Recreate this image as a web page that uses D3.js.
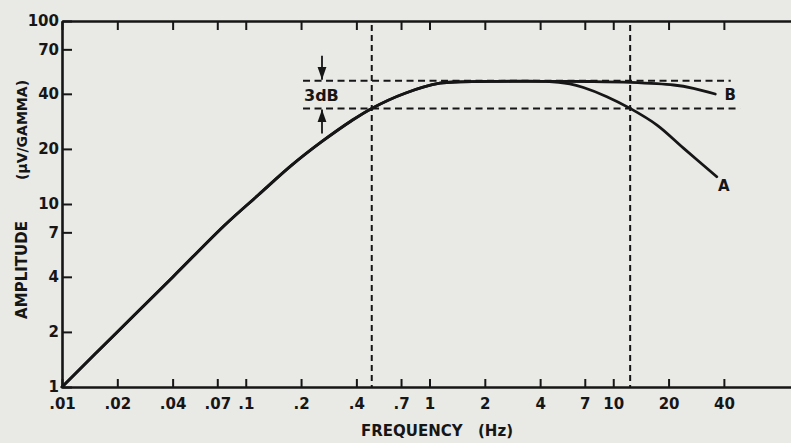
<!DOCTYPE html>
<html>
<head>
<meta charset="utf-8">
<script src="https://cdn.jsdelivr.net/npm/d3@7"></script>
<style>
  html, body { margin: 0; padding: 0; background: #e9e9e6; }
  svg { display: block; }
  text { font-family: "DejaVu Sans", "Liberation Sans", sans-serif; font-weight: bold; fill: #161616; }
</style>
</head>
<body>
<svg id="chart" width="791" height="443"></svg>
<script>
// Frequency axis ticks (Hz) and their labels
const xTicks = [0.01, 0.02, 0.04, 0.07, 0.1, 0.2, 0.4, 0.7, 1, 2, 4, 7, 10, 20, 40];
const xTickLabels = [".01", ".02", ".04", ".07", ".1", ".2", ".4", ".7", "1", "2", "4", "7", "10", "20", "40"];
// Amplitude axis ticks (µV/gamma) and their labels
const yTicks = [1, 2, 4, 7, 10, 20, 40, 70, 100];
const yTickLabels = ["1", "2", "4", "7", "10", "20", "40", "70", "100"];

// Response A: band-limited at both ends
const freqA = [0.01, 0.02, 0.04, 0.077, 0.117, 0.178, 0.259, 0.378, 0.485, 0.737, 1.14, 1.47, 2.4, 4.3, 5.8, 6.88, 9.23, 12.36, 17.3, 24.1, 36.6];
const ampA  = [1.0,  2.0,  3.98, 7.68,  11.2,  16.3,  21.9,  28.6,  33.3,  40.3,  45.7, 46.5, 46.8, 46.8, 45.3, 43.3, 38.6, 33.3,  27.0, 20.2, 14.1];
// Response B: same low end, extended high end
const freqB = [0.01, 0.02, 0.04, 0.077, 0.117, 0.178, 0.259, 0.378, 0.485, 0.737, 1.14, 1.47, 2.4, 4.3, 7.5,  12.36, 21.3, 27.3, 35.9];
const ampB  = [1.0,  2.0,  3.98, 7.68,  11.2,  16.3,  21.9,  28.6,  33.3,  40.3,  45.7, 46.5, 46.8, 46.8, 46.7, 46.2,  44.7, 42.9, 39.9];

// Pass-band reference: peak level and the -3 dB level, with their frequency spans
const refLevels = [47.2, 33.3];
const refStart = [0.205, 0.205];
const refEnd = [43.6, 49.0];
// Half-power (cutoff) frequencies
const cutoffFreqs = [0.485, 12.36];

const svg = d3.select("#chart");
const ink = "#161616";

const x = d3.scaleLog().domain([0.01, 100]).range([62, 797]);
const y = d3.scaleLog().domain([1, 100]).range([387, 21]);

// Reference dashed lines
const gRef = svg.append("g").attr("stroke", ink).attr("fill", "none");
refLevels.forEach((lv, i) => {
  gRef.append("line")
    .attr("x1", x(refStart[i])).attr("x2", x(refEnd[i]))
    .attr("y1", y(lv)).attr("y2", y(lv))
    .attr("stroke-width", 2).attr("stroke-dasharray", "7,4.5");
});
cutoffFreqs.forEach(f => {
  gRef.append("line")
    .attr("x1", x(f)).attr("x2", x(f))
    .attr("y1", y(100) + 4).attr("y2", y(1))
    .attr("stroke-width", 2).attr("stroke-dasharray", "6,4");
});

// Response curves
const line = d3.line().x(d => x(d[0])).y(d => y(d[1])).curve(d3.curveCatmullRom.alpha(0.5));
svg.append("path").datum(d3.zip(freqB, ampB))
  .attr("d", line).attr("fill", "none").attr("stroke", ink).attr("stroke-width", 2.8)
  .attr("stroke-linecap", "round");
svg.append("path").datum(d3.zip(freqA, ampA))
  .attr("d", line).attr("fill", "none").attr("stroke", ink).attr("stroke-width", 2.8)
  .attr("stroke-linecap", "round");

// Curve labels
svg.append("text").attr("x", x(freqA[freqA.length - 1]) + 7).attr("y", y(ampA[ampA.length - 1]) + 14)
  .attr("text-anchor", "middle").attr("font-size", 15).text("A");
svg.append("text").attr("x", x(freqB[freqB.length - 1]) + 15).attr("y", y(ampB[ampB.length - 1]) + 6)
  .attr("text-anchor", "middle").attr("font-size", 15).text("B");

// 3 dB annotation with arrows pointing at the two reference levels
const ax = x(0.26);
const defs = svg.append("defs");
defs.append("marker").attr("id", "arrow").attr("viewBox", "0 0 10 10")
  .attr("refX", 10).attr("refY", 5).attr("markerWidth", 7).attr("markerHeight", 7)
  .attr("orient", "auto-start-reverse")
  .append("path").attr("d", "M0,1.5 L10,5 L0,8.5 Z").attr("fill", ink);
svg.append("line").attr("x1", ax).attr("x2", ax)
  .attr("y1", y(refLevels[0]) - 25).attr("y2", y(refLevels[0]) - 1)
  .attr("stroke", ink).attr("stroke-width", 1.8).attr("marker-end", "url(#arrow)");
svg.append("line").attr("x1", ax).attr("x2", ax)
  .attr("y1", y(refLevels[1]) + 25).attr("y2", y(refLevels[1]) + 1)
  .attr("stroke", ink).attr("stroke-width", 1.8).attr("marker-end", "url(#arrow)");
svg.append("text").attr("x", x(refStart[0]) + 1).attr("y", (y(refLevels[0]) + y(refLevels[1])) / 2 + 6)
  .attr("font-size", 16).text("3dB");

// Axes
const axisBottomG = svg.append("g").attr("transform", `translate(0,${y(1)})`)
  .call(d3.axisBottom(x).tickValues(xTicks).tickSizeInner(-8).tickSizeOuter(0)
    .tickFormat((d, i) => xTickLabels[i]).tickPadding(11));
const axisTopG = svg.append("g").attr("transform", `translate(0,${y(100)})`)
  .call(d3.axisTop(x).tickValues(xTicks).tickSizeInner(-9).tickSizeOuter(0).tickFormat(""));
const axisLeftG = svg.append("g").attr("transform", `translate(${x(0.01)},0)`)
  .call(d3.axisLeft(y).tickValues(yTicks).tickSizeInner(-10).tickSizeOuter(0)
    .tickFormat((d, i) => yTickLabels[i]).tickPadding(14));

[axisBottomG, axisTopG, axisLeftG].forEach(g => {
  g.selectAll(".domain").attr("stroke", ink).attr("stroke-width", 2.6);
  g.selectAll(".tick line").attr("stroke", ink).attr("stroke-width", 2);
  g.selectAll(".tick text").attr("font-size", 15).attr("fill", ink)
    .attr("font-family", "DejaVu Sans").attr("font-weight", "bold");
});
axisLeftG.selectAll(".tick text").attr("x", -3);

// Axis titles
svg.append("text").attr("x", 361).attr("y", 436).attr("font-size", 15).text("FREQUENCY");
svg.append("text").attr("x", 478).attr("y", 436).attr("font-size", 15).text("(Hz)");
svg.append("text").attr("transform", "translate(27,270) rotate(-90)")
  .attr("text-anchor", "middle").attr("font-size", 15).text("AMPLITUDE");
svg.append("text").attr("transform", "translate(27,130) rotate(-90)")
  .attr("text-anchor", "middle").attr("font-size", 14).text("(\u03BCV/GAMMA)");
</script>
</body>
</html>
